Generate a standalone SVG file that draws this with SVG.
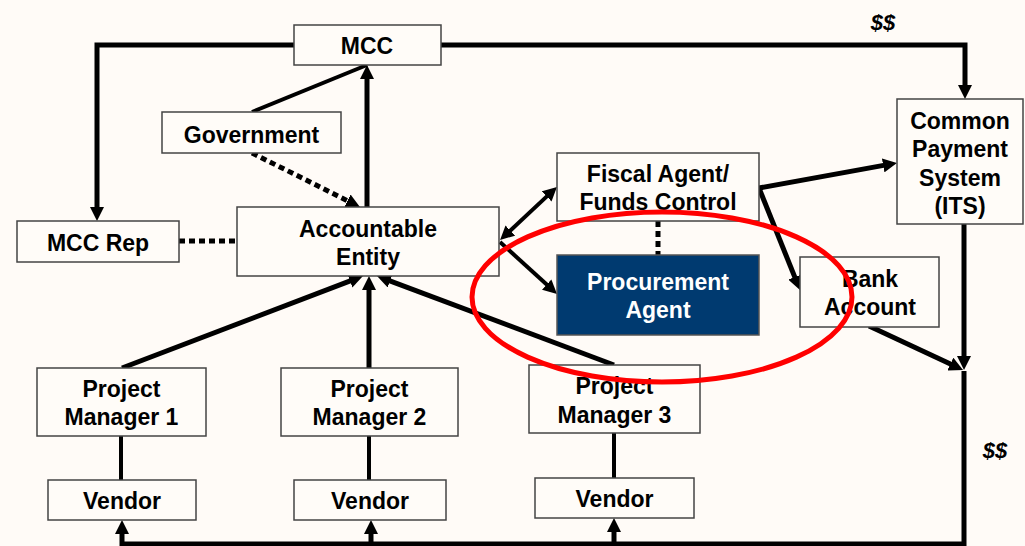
<svg xmlns="http://www.w3.org/2000/svg" width="1025" height="546" viewBox="0 0 1025 546">
<style>
.box{fill:#FFFCF8;stroke:#444;stroke-width:1.5}
.dark{fill:#003A70;stroke:#555;stroke-width:1.5}
text{font-family:"Liberation Sans",Arial,sans-serif;font-weight:bold;font-size:23px;text-anchor:middle;fill:#000}
.w{fill:#fff}
.money{font-style:italic;font-size:22px}
.c{fill:none;stroke:#000;stroke-width:5}
.m{fill:none;stroke:#000;stroke-width:4}
.d{fill:none;stroke:#000;stroke-width:5;stroke-dasharray:6,4}
</style>
<defs>
<marker id="ah" viewBox="0 0 14 14" refX="6" refY="7" markerWidth="14" markerHeight="14" markerUnits="userSpaceOnUse" orient="auto-start-reverse">
<path d="M0,0 L14,7 L0,14 z" fill="#000"/>
</marker>
</defs>
<rect width="1025" height="546" fill="#FFFBF7"/>
<g id="connectors">
<path class="c" d="M294,45 H97 V213" marker-end="url(#ah)"/>
<path class="c" d="M441,45 H965 V91" marker-end="url(#ah)"/>
<path class="m" d="M252,112 L367,65"/>
<path class="d" d="M252,153 L352.8,203.4" marker-end="url(#ah)"/>
<path class="c" d="M367,207 V73" marker-end="url(#ah)"/>
<path class="d" d="M179,241 H237"/>
<path class="c" d="M122,368 L355.5,278.9" marker-end="url(#ah)"/>
<path class="c" d="M369,368 V284" marker-end="url(#ah)"/>
<path class="c" d="M614,365 L384.5,278.8" marker-end="url(#ah)"/>
<path class="m" d="M121,436 V480"/>
<path class="m" d="M369,436 V480"/>
<path class="m" d="M614,433 V478"/>
<path class="c" d="M964,224 V362" marker-end="url(#ah)"/>
<path class="c" d="M964,371 V544 H122 V528" marker-end="url(#ah)"/>
<path class="c" d="M371,544 V528" marker-end="url(#ah)"/>
<path class="c" d="M614,544 V526" marker-end="url(#ah)"/>
<path class="c" d="M869,326 L955.8,366.6" marker-end="url(#ah)"/>
<path class="c" d="M759,188 L889.1,164.4" marker-end="url(#ah)"/>
<path class="c" d="M759,188 L797,282.6" marker-end="url(#ah)"/>
<path class="m" d="M505.9,234.6 L551.1,192.4" marker-start="url(#ah)" marker-end="url(#ah)"/>
<path class="m" d="M500,242 L551.1,288.6" marker-end="url(#ah)"/>
<path class="d" d="M658,221 V255"/>
</g>
<g id="mcc"><rect class="box" x="294" y="25" width="147" height="40"/><text x="367" y="54">MCC</text></g>
<g id="government"><rect class="box" x="162" y="112" width="179" height="41"/><text x="251.5" y="143">Government</text></g>
<g id="mcc-rep"><rect class="box" x="17" y="221" width="162" height="41"/><text x="98" y="251">MCC Rep</text></g>
<g id="accountable-entity"><rect class="box" x="237" y="207" width="262" height="69"/><text x="368" y="237">Accountable</text><text x="368" y="265">Entity</text></g>
<g id="fiscal-agent"><rect class="box" x="557" y="153" width="202" height="68"/><text x="658" y="182">Fiscal Agent/</text><text x="658" y="210">Funds Control</text></g>
<g id="common-payment"><rect class="box" x="897" y="99" width="126" height="125"/><text x="960" y="129">Common</text><text x="960" y="157">Payment</text><text x="960" y="186">System</text><text x="960" y="214">(ITS)</text></g>
<g id="procurement-agent"><rect class="dark" x="557" y="255" width="202" height="80"/><text class="w" x="658" y="290">Procurement</text><text class="w" x="658" y="318">Agent</text></g>
<g id="bank-account"><rect class="box" x="800" y="257" width="139" height="70"/><text x="870" y="287">Bank</text><text x="870" y="315">Account</text></g>
<g id="pm1"><rect class="box" x="37" y="368" width="169" height="68"/><text x="121.5" y="397">Project</text><text x="121.5" y="425">Manager 1</text></g>
<g id="pm2"><rect class="box" x="281" y="368" width="177" height="68"/><text x="369.5" y="397">Project</text><text x="369.5" y="425">Manager 2</text></g>
<g id="pm3"><rect class="box" x="529" y="365" width="171" height="68"/><text x="614.5" y="394">Project</text><text x="614.5" y="423">Manager 3</text></g>
<g id="vendor1"><rect class="box" x="48" y="480" width="148" height="40"/><text x="122" y="509">Vendor</text></g>
<g id="vendor2"><rect class="box" x="294" y="480" width="152" height="40"/><text x="370" y="509">Vendor</text></g>
<g id="vendor3"><rect class="box" x="535" y="478" width="159" height="40"/><text x="614.5" y="507">Vendor</text></g>
<g id="labels"><text class="money" x="883" y="30">$$</text><text class="money" x="995" y="458">$$</text></g>
<ellipse id="highlight" cx="662" cy="297" rx="190" ry="85" fill="none" stroke="#FF0000" stroke-width="5"/>
</svg>
